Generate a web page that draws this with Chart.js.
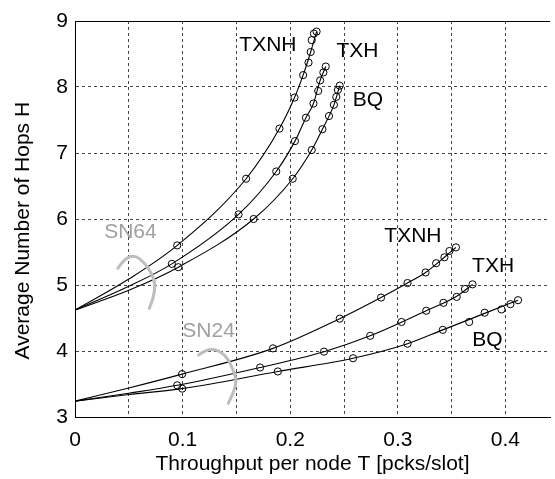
<!DOCTYPE html>
<html><head><meta charset="utf-8">
<script src="https://cdn.jsdelivr.net/npm/chart.js@4/dist/chart.umd.min.js"></script>
<style>html,body{margin:0;padding:0;background:#fff;}#wrap{width:555px;height:479px;position:relative;}</style>
</head><body><div id="wrap"><canvas id="c"></canvas></div>
<script>
// ---- data (T = throughput per node, H = average hops) ----
const xGridValues = [0, 0.05, 0.1, 0.15, 0.2, 0.25, 0.3, 0.35, 0.4];
const xTickLabelValues = [0, 0.1, 0.2, 0.3, 0.4];
const yTickValues = [3, 4, 5, 6, 7, 8, 9];

// SN64 analytic curves and simulation points
const sn64_TXNH_curve = [[0,4.62],[0.05,5.09],[0.095,5.60],[0.159,6.61],[0.19,7.37],[0.204,7.84],[0.212,8.18],[0.219,8.53],[0.2245,8.84]];
const sn64_TXNH_sim   = [[0.095,5.60],[0.159,6.61],[0.190,7.37],[0.204,7.84],[0.212,8.18],[0.217,8.37],[0.219,8.53],[0.220,8.71],[0.222,8.81],[0.2245,8.84]];
const sn64_TXH_curve  = [[0,4.62],[0.05,4.98],[0.09,5.32],[0.152,6.07],[0.187,6.72],[0.2044,7.18],[0.2146,7.535],[0.2216,7.75],[0.2278,8.10],[0.233,8.31]];
const sn64_TXH_sim    = [[0.090,5.32],[0.152,6.07],[0.187,6.72],[0.2044,7.18],[0.2146,7.535],[0.2216,7.75],[0.226,7.94],[0.2278,8.10],[0.2308,8.22],[0.233,8.31]];
const sn64_BQ_curve   = [[0,4.62],[0.05,4.92],[0.096,5.27],[0.166,6.0],[0.2023,6.61],[0.220,7.045],[0.2299,7.36],[0.2406,7.73],[0.246,8.02]];
const sn64_BQ_sim     = [[0.096,5.27],[0.166,6.00],[0.2023,6.61],[0.220,7.045],[0.2299,7.36],[0.236,7.56],[0.2406,7.73],[0.2428,7.85],[0.2443,7.955],[0.246,8.02]];

// SN24 analytic curves and simulation points
const sn24_TXNH_curve = [[0,3.24],[0.05,3.44],[0.0995,3.65],[0.184,4.04],[0.246,4.49],[0.2844,4.81],[0.309,5.03],[0.3258,5.19],[0.3433,5.42],[0.354,5.57]];
const sn24_TXNH_sim   = [[0.0995,3.65],[0.184,4.04],[0.246,4.49],[0.2844,4.81],[0.309,5.03],[0.3258,5.19],[0.3356,5.33],[0.3433,5.42],[0.348,5.515],[0.354,5.57]];
const sn24_TXH_curve  = [[0,3.24],[0.05,3.36],[0.095,3.48],[0.172,3.75],[0.2314,3.99],[0.2743,4.23],[0.3264,4.61],[0.3547,4.83],[0.3694,5.01]];
const sn24_TXH_sim    = [[0.095,3.48],[0.172,3.75],[0.2314,3.99],[0.2743,4.23],[0.3034,4.44],[0.3264,4.61],[0.3424,4.73],[0.3547,4.82],[0.3623,4.94],[0.3694,5.01]];
const sn24_BQ_curve   = [[0,3.24],[0.05,3.34],[0.0996,3.43],[0.1885,3.69],[0.2584,3.89],[0.309,4.11],[0.3418,4.32],[0.3807,4.57],[0.4117,4.77]];
const sn24_BQ_sim     = [[0.0996,3.43],[0.1885,3.69],[0.2584,3.89],[0.309,4.11],[0.3418,4.32],[0.3663,4.44],[0.3807,4.58],[0.3963,4.63],[0.4046,4.71],[0.4117,4.77]];

// in-plot labels (data coordinates)
const curveLabels = [
  {text:'TXNH', x:0.1793, y:8.636}, {text:'TXH', x:0.2625, y:8.535}, {text:'BQ', x:0.2722, y:7.803},
  {text:'TXNH', x:0.314, y:5.742}, {text:'TXH', x:0.3885, y:5.28}, {text:'BQ', x:0.3832, y:4.167}
];
const groupLabels = [{text:'SN64', x:0.0515, y:5.795}, {text:'SN24', x:0.1241, y:4.303}];
const groupBrackets = [
  [[0.0398,5.253],[0.0506,5.52],[0.069,5.277],[0.0766,4.924],[0.069,4.647]],
  [[0.1149,3.939],[0.1241,4.056],[0.1395,3.965],[0.1487,3.662],[0.1502,3.459],[0.1425,3.208]]
];

const FONT = '"Liberation Sans", Arial, Helvetica, sans-serif';
const pts = a => a.map(p => ({x:p[0], y:p[1]}));
const curveDS = a => ({data:pts(a), showLine:true, borderColor:'#000', borderWidth:1.1, pointRadius:0,
  cubicInterpolationMode:'monotone', fill:false});
const simDS = a => ({data:pts(a), showLine:false, pointStyle:'circle', pointRadius:3.6,
  pointBorderColor:'#000', pointBackgroundColor:'rgba(0,0,0,0)', pointBorderWidth:1});

const overlay = {
  id:'overlay',
  afterDatasetsDraw(chart){
    const {ctx, chartArea:ca, scales:{x, y}} = chart;
    ctx.save();
    // top frame line
    ctx.strokeStyle = '#000'; ctx.lineWidth = 1; ctx.setLineDash([]);
    ctx.beginPath(); ctx.moveTo(ca.left, ca.top + 0.5); ctx.lineTo(ca.right, ca.top + 0.5); ctx.stroke();
    // grey brackets
    ctx.strokeStyle = '#bdbdbd'; ctx.lineWidth = 3; ctx.lineCap = 'round';
    groupBrackets.forEach(b => {
      const p = b.map(q => [x.getPixelForValue(q[0]), y.getPixelForValue(q[1])]);
      ctx.beginPath(); ctx.moveTo(p[0][0], p[0][1]);
      for (let i = 1; i < p.length - 1; i++) {
        const last = i === p.length - 2;
        const mx = last ? p[i+1][0] : (p[i][0] + p[i+1][0]) / 2;
        const my = last ? p[i+1][1] : (p[i][1] + p[i+1][1]) / 2;
        ctx.quadraticCurveTo(p[i][0], p[i][1], mx, my);
      }
      ctx.stroke();
    });
    ctx.textAlign = 'center'; ctx.textBaseline = 'middle';
    ctx.font = '21px ' + FONT;
    ctx.fillStyle = '#a0a0a0';
    groupLabels.forEach(l => ctx.fillText(l.text, x.getPixelForValue(l.x), y.getPixelForValue(l.y)));
    ctx.fillStyle = '#000';
    curveLabels.forEach(l => ctx.fillText(l.text, x.getPixelForValue(l.x), y.getPixelForValue(l.y)));
    ctx.restore();
  }
};

new Chart(document.getElementById('c'), {
  type:'scatter',
  data:{datasets:[
    curveDS(sn64_TXNH_curve), simDS(sn64_TXNH_sim),
    curveDS(sn64_TXH_curve), simDS(sn64_TXH_sim),
    curveDS(sn64_BQ_curve), simDS(sn64_BQ_sim),
    curveDS(sn24_TXNH_curve), simDS(sn24_TXNH_sim),
    curveDS(sn24_TXH_curve), simDS(sn24_TXH_sim),
    curveDS(sn24_BQ_curve), simDS(sn24_BQ_sim)
  ]},
  options:{
    responsive:true, maintainAspectRatio:false, animation:false,
    layout:{padding:{top:21, right:0, left:0, bottom:0}},
    plugins:{legend:{display:false}, tooltip:{enabled:false}},
    scales:{
      x:{type:'linear', min:0, max:0.4414,
        afterBuildTicks: s => { s.ticks = xGridValues.map(v => ({value:v})); },
        afterFit: s => { s.height = 62; },
        ticks:{padding:11, color:'#000', font:{family:FONT, size:21}, maxRotation:0, autoSkip:false,
          callback: v => {
            const hit = xTickLabelValues.find(t => Math.abs(t - v) < 1e-6);
            return hit === undefined ? '' : (hit === 0 ? '0' : hit.toFixed(1));
          }},
        grid:{drawTicks:false, lineWidth:1, color: c => (c.tick && Math.abs(c.tick.value) < 1e-9) ? 'rgba(0,0,0,0)' : '#444'},
        border:{display:true, color:'#000', width:1, dash:[3,3]},
        title:{display:true, text:'Throughput per node T [pcks/slot]', color:'#000', font:{family:FONT, size:21}, padding:{top:0, bottom:2}}
      },
      y:{type:'linear', min:3, max:9,
        afterBuildTicks: s => { s.ticks = yTickValues.map(v => ({value:v})); },
        afterFit: s => { s.width = 75; },
        ticks:{padding:7, color:'#000', font:{family:FONT, size:21}},
        grid:{drawTicks:false, lineWidth:1, color: c => (c.tick && (c.tick.value === 3 || c.tick.value === 9)) ? 'rgba(0,0,0,0)' : '#444'},
        border:{display:true, color:'#000', width:1, dash:[3,3]},
        title:{display:true, text:'Average Number of Hops H\u00a0\u00a0\u00a0\u00a0', color:'#000', font:{family:FONT, size:21}, padding:{top:11, bottom:0}}
      }
    }
  },
  plugins:[overlay]
});
</script></body></html>
